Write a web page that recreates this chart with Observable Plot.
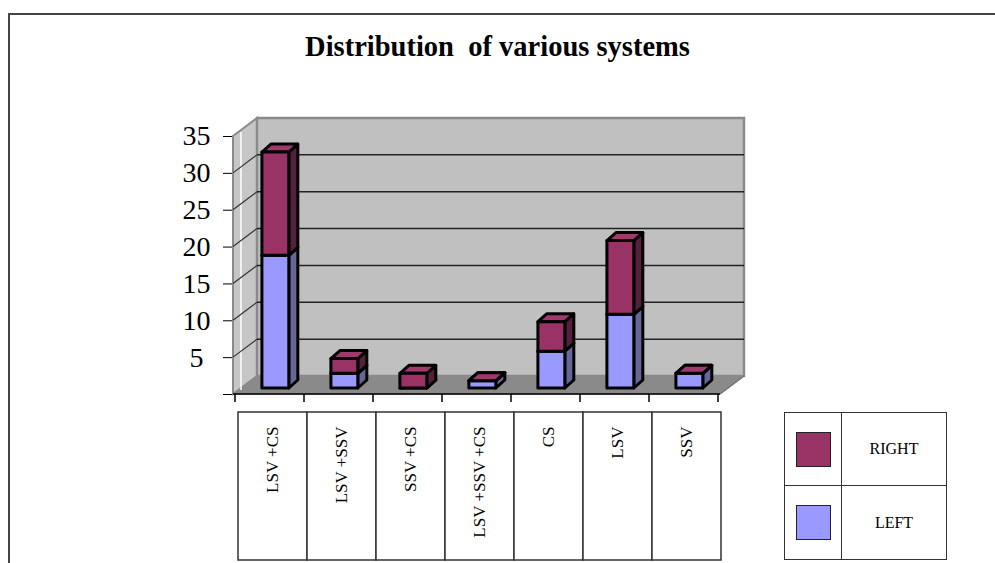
<!DOCTYPE html>
<html>
<head>
<meta charset="utf-8">
<script src="https://cdn.jsdelivr.net/npm/d3@7"></script>
<script src="https://cdn.jsdelivr.net/npm/@observablehq/plot@0.6"></script>
<style>
  html, body { margin: 0; padding: 0; background: #fff; overflow: hidden; }
  #wrap { position: relative; width: 995px; height: 563px; overflow: hidden; background: #fff; }
  #wrap > * { position: absolute; }
  #frame { left: 8px; top: 13px; width: 1100px; height: 700px; border-left: 2px solid #444; border-top: 2px solid #444; }
  #title { left: 0; top: 31px; width: 995px; text-align: center; font: bold 28.5px "Liberation Serif", "Times New Roman", serif; white-space: pre; color: #000; }
  #legend { left: 784px; top: 412px; width: 163px; height: 148px; border: 1.5px solid #333; box-sizing: border-box; display: grid; grid-template-columns: 57px 1fr; grid-template-rows: 1fr 1fr; font: 16px "Liberation Serif", "Times New Roman", serif; }
  #legend .sw { border-right: 1.5px solid #333; display: flex; align-items: center; justify-content: center; }
  #legend .sw span { width: 35px; height: 35px; border: 1.5px solid #222; box-sizing: border-box; display: block; }
  #legend .lb { display: flex; align-items: center; justify-content: center; }
  #legend .top { border-bottom: 1.5px solid #333; }
</style>
</head>
<body>
<div id="wrap">
  <div id="frame"></div>
  <div id="chart" style="left:0;top:0;"></div>
  <div id="table" style="left:0;top:400px;"></div>
  <div id="title"></div>
  <div id="legend"></div>
</div>
<script>
// ---- data ----
const titleText = "Distribution  of various systems";
const categories = ["LSV +CS", "LSV +SSV", "SSV +CS", "LSV +SSV +CS", "CS", "LSV", "SSV"];
const leftValues = [18, 2, 0, 1, 5, 10, 2];
const rightValues = [14, 2, 2, 0, 4, 10, 0];
const seriesNames = ["LEFT", "RIGHT"];
const yTicks = [0, 5, 10, 15, 20, 25, 30, 35];
const yTickLabels = [5, 10, 15, 20, 25, 30, 35];

// ---- styles ----
const frontColor = {LEFT: "#9999ff", RIGHT: "#993366"};
const sideColor = {LEFT: "#666699", RIGHT: "#55203b"};
const topColor = {LEFT: "#9999ff", RIGHT: "#a03a6c"};
const WALL_DX = 24, WALL_DY = -18;   // depth of the 3-D box
const BAR_DX = 9, BAR_DY = -8;       // depth of each bar
const BAR_BASE = -6;                 // bars sit a little back on the floor

document.getElementById("title").textContent = titleText;

function walls(index, scales) {
  const {x, y} = scales;
  const [xa, xb] = x.range();
  const y0 = y(0), yT = y(d3.max(yTicks));
  const g = d3.create("svg:g");
  g.append("path")
    .attr("d", `M${xa},${y0}L${xb},${y0}L${xb + WALL_DX},${y0 + WALL_DY}L${xa + WALL_DX},${y0 + WALL_DY}Z`)
    .attr("fill", "#8a8a8a").attr("stroke", "#777").attr("stroke-width", 1);
  g.append("path")
    .attr("d", `M${xa},${y0}L${xa},${yT}L${xa + WALL_DX},${yT + WALL_DY}L${xa + WALL_DX},${y0 + WALL_DY}Z`)
    .attr("fill", "#c6c6c6").attr("stroke", "#8a8a8a").attr("stroke-width", 2);
  g.append("line")
    .attr("x1", xa + 8).attr("x2", xa + 8).attr("y1", yT - 4).attr("y2", y0 - 4)
    .attr("stroke", "#fff").attr("stroke-width", 1.5);
  g.append("rect")
    .attr("x", xa + WALL_DX).attr("y", yT + WALL_DY)
    .attr("width", xb - xa).attr("height", y0 - yT)
    .attr("fill", "#c0c0c0").attr("stroke", "#8a8a8a").attr("stroke-width", 2.5);
  yTicks.filter(t => t > 0 && t < d3.max(yTicks)).forEach(t => {
    const yy = y(t);
    g.append("line")
      .attr("x1", xa + WALL_DX).attr("x2", xb + WALL_DX)
      .attr("y1", yy + WALL_DY).attr("y2", yy + WALL_DY)
      .attr("stroke", "#222").attr("stroke-width", 1.5);
    g.append("line")
      .attr("x1", xa).attr("x2", xa + WALL_DX)
      .attr("y1", yy).attr("y2", yy + WALL_DY)
      .attr("stroke", "#333").attr("stroke-width", 1.2);
  });
  g.append("line")
    .attr("x1", xb).attr("y1", y0).attr("x2", xb + WALL_DX).attr("y2", y0 + WALL_DY)
    .attr("stroke", "#777").attr("stroke-width", 1.5);
  return g.node();
}

function xAxis(index, scales) {
  const {x, y} = scales;
  const [xa, xb] = x.range();
  const y0 = y(0);
  const g = d3.create("svg:g").attr("stroke", "#000").attr("stroke-width", 1.5);
  g.append("line").attr("x1", xa).attr("x2", xb).attr("y1", y0).attr("y2", y0);
  const bounds = categories.map(c => x(c)).concat([x(categories[categories.length - 1]) + x.bandwidth()]);
  bounds.forEach(b => {
    g.append("line").attr("x1", b).attr("x2", b).attr("y1", y0).attr("y2", y0 + 8);
  });
  return g.node();
}

function bars(index, scales) {
  const {x, y} = scales;
  const bw = x.bandwidth();
  const g = d3.create("svg:g")
    .attr("stroke", "#000").attr("stroke-width", 3).attr("stroke-linejoin", "round");
  categories.forEach((c, i) => {
    const xf = x(c) + bw * 0.39, w = bw * 0.39;
    let acc = 0;
    const segs = [["LEFT", leftValues[i]], ["RIGHT", rightValues[i]]];
    segs.forEach(([s, v]) => {
      const yb = y(acc) + BAR_BASE, yt = y(acc + v) + BAR_BASE;
      acc += v;
      g.append("path")
        .attr("d", `M${xf + w},${yb}L${xf + w + BAR_DX},${yb + BAR_DY}L${xf + w + BAR_DX},${yt + BAR_DY}L${xf + w},${yt}Z`)
        .attr("fill", sideColor[s]);
      g.append("path")
        .attr("d", `M${xf},${yt}L${xf + BAR_DX},${yt + BAR_DY}L${xf + w + BAR_DX},${yt + BAR_DY}L${xf + w},${yt}Z`)
        .attr("fill", topColor[s]);
      g.append("rect")
        .attr("x", xf).attr("y", yt).attr("width", w).attr("height", Math.max(0, yb - yt))
        .attr("fill", frontColor[s]);
    });
  });
  return g.node();
}

const chart = Plot.plot({
  width: 995,
  height: 563,
  marginLeft: 233,
  marginRight: 275,
  marginTop: 136,
  marginBottom: 169,
  style: {fontFamily: "'Liberation Serif', 'Times New Roman', serif", fontSize: "28px", color: "#000", background: "transparent", overflow: "visible"},
  x: {type: "band", domain: categories, padding: 0, axis: null},
  y: {domain: [0, 35], ticks: yTicks, tickFormat: () => "", tickSize: 10, tickPadding: 14, label: null, line: true},
  marks: [
    walls,
    xAxis,
    bars,
    Plot.text(yTickLabels, {y: d => d, text: d => String(d), frameAnchor: "left", textAnchor: "middle", lineAnchor: "middle", dx: -37, fill: "#000"})
  ]
});
document.getElementById("chart").appendChild(chart);

const table = Plot.plot({
  width: 995,
  height: 163,
  marginLeft: 236,
  marginRight: 273,
  marginTop: 12,
  marginBottom: 3,
  style: {fontFamily: "'Liberation Serif', 'Times New Roman', serif", fontSize: "17px", color: "#000", background: "transparent", overflow: "visible"},
  x: {type: "band", domain: categories, padding: 0, axis: null},
  marks: [
    Plot.cell(categories, {x: d => d, fill: "white", stroke: "#333", strokeWidth: 1.5}),
    Plot.text(categories, {x: d => d, text: d => d, frameAnchor: "top", lineAnchor: "middle", rotate: -90, textAnchor: "end", dy: 14, fill: "#000"})
  ]
});
document.getElementById("table").appendChild(table);

// legend (RIGHT on top, LEFT below)
const legend = document.getElementById("legend");
seriesNames.slice().reverse().forEach((s, i) => {
  const sw = document.createElement("div");
  sw.className = "sw" + (i === 0 ? " top" : "");
  const box = document.createElement("span");
  box.style.background = frontColor[s];
  sw.appendChild(box);
  const lb = document.createElement("div");
  lb.className = "lb" + (i === 0 ? " top" : "");
  lb.textContent = s;
  legend.appendChild(sw);
  legend.appendChild(lb);
});
</script>
</body>
</html>
